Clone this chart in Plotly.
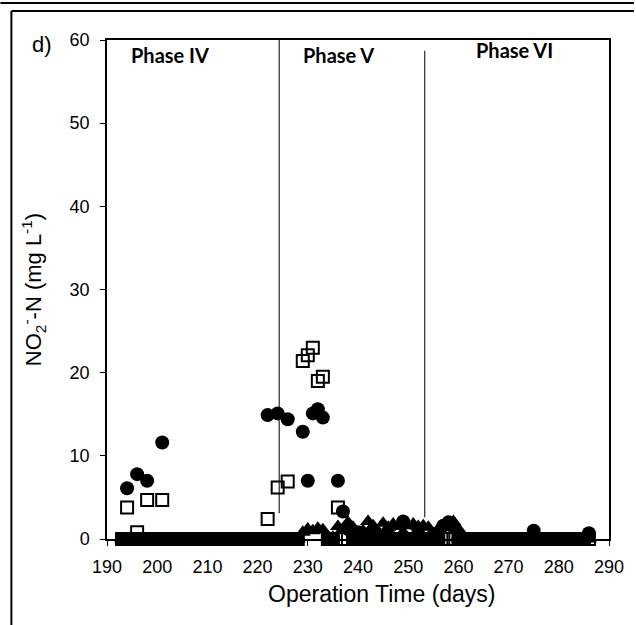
import plotly.graph_objects as go

# ---- data ----
days = [193, 194, 195, 196, 197, 198, 199, 200, 201, 202,
        203, 204, 205, 206, 207, 208, 209, 210, 211, 212,
        213, 214, 215, 216, 217, 218, 219, 220, 221, 222,
        223, 224, 225, 226, 227, 228, 229, 230, 231, 232,
        233, 234, 235, 236, 237, 238, 239, 240, 241, 242,
        243, 244, 245, 246, 247, 248, 249, 250, 251, 252,
        253, 254, 255, 256, 257, 258, 259, 260, 261, 262,
        263, 264, 265, 266, 267, 268, 269, 270, 271, 272,
        273, 274, 275, 276, 277, 278, 279, 280, 281, 282,
        283, 284, 285, 286]

circles = [0, 6.1, 0, 7.8, 0, 7.0, 0, 0, 11.6, 0,
           0, 0, 0, 0, 0, 0, 0, 0, 0, 0,
           0, 0, 0, 0, 0, 0, 0, 0, 0, 14.9,
           0, 15.1, 0, 14.4, 0, 0, 12.9, 7.0, 15.1, 15.6,
           14.6, 0, 0, 7.0, 3.3, 1.2, 0, 0.8, 0, 0,
           1.0, 0, 0, 0.6, 0, 0, 2.1, 0, 0, 1.2,
           0, 0, 0.5, 0, 1.6, 2.0, 1.5, 0, 0, 0,
           0, 0, 0, 0, 0, 0, 0, 0, 0, 0,
           0, 0, 1.0, 0, 0, 0, 0, 0, 0, 0,
           0, 0, 0, 0.7]

squares = [0, 3.8, 0, 0.8, 0, 4.7, 0, 0, 4.7, 0,
           0, 0, 0, 0, 0, 0, 0, 0, 0, 0,
           0, 0, 0, 0, 0, 0, 0, 0, 0, 2.4,
           0, 6.2, 0, 6.9, 0, 0, 21.4, 22.1, 23.0, 19.0,
           19.5, 0, 0, 3.8, 0, 0, 0, 0, 0, 0,
           0, 0, 0, 0, 0, 0, 0, 0, 0, 0,
           0, 0, 0, 0, 0, 0, 0, 0, 0, 0,
           0, 0, 0, 0, 0, 0, 0, 0, 0, 0,
           0, 0, 0, 0, 0, 0, 0, 0, 0, 0,
           0, 0, 0, 0]

triangles = [0, 0, 0, 0, 0, 0, 0, 0, 0, 0,
             0, 0, 0, 0, 0, 0, 0, 0, 0, 0,
             0, 0, 0, 0, 0, 0, 0, 0, 0, 0,
             0, 0, 0, 0, 0, 0, 0.8, 1.2, 1.0, 1.3,
             1.1, 0.3, 0.2, 1.5, 1.2, 2.0, 1.4, 0.5, 1.0, 2.1,
             1.6, 0.9, 1.9, 1.4, 1.8, 1.5, 0.8, 1.6, 1.8, 1.5,
             1.6, 1.4, 0.6, 1.2, 1.6, 1.7, 2.1, 1.2, 0, 0,
             0, 0, 0, 0, 0, 0, 0, 0, 0, 0,
             0, 0, 0, 0, 0, 0, 0, 0, 0, 0,
             0, 0, 0, 0]

phase_labels = ["Phase IV", "Phase V", "Phase VI"]
phase_label_x = [202.5, 236.2, 271.2]
phase_label_y = [58.2, 58.2, 58.8]
phase_bounds = [224.3, 253.3]
phase_bound_bottom = [3.1, 2.6]
phase_bound_top = [60, 58.7]

x_ticks = [190, 200, 210, 220, 230, 240, 250, 260, 270, 280, 290]
y_ticks = [0, 10, 20, 30, 40, 50, 60]

# ---- layout geometry (pixels) ----
W, H = 636, 625
L, R, T, B = 107, 25, 40, 86
PW, PH = W - L - R, H - T - B


def px(x):
    return (x - L) / PW


def py(y):
    return (H - B - y) / PH


fig = go.Figure()

fig.add_trace(go.Scatter(
    x=days, y=squares, mode="markers", cliponaxis=False,
    marker=dict(symbol="square-open", size=12, color="black",
                line=dict(width=2, color="black")),
    showlegend=False))
fig.add_trace(go.Scatter(
    x=days, y=circles, mode="markers", cliponaxis=False,
    marker=dict(symbol="circle", size=14, color="black"),
    showlegend=False))
fig.add_trace(go.Scatter(
    x=days, y=triangles, mode="markers", cliponaxis=False,
    marker=dict(symbol="triangle-up", size=14, color="black"),
    showlegend=False))

shapes = []
for xb, y0, y1 in zip(phase_bounds, phase_bound_bottom, phase_bound_top):
    shapes.append(dict(type="line", xref="x", yref="y", x0=xb, x1=xb,
                       y0=y0, y1=y1, line=dict(color="black", width=1)))
# outer panel frame
shapes.append(dict(type="line", xref="paper", yref="paper",
                   x0=px(0), x1=px(W), y0=py(3), y1=py(3),
                   line=dict(color="black", width=2)))
shapes.append(dict(type="line", xref="paper", yref="paper",
                   x0=px(11), x1=px(W), y0=py(11), y1=py(11),
                   line=dict(color="black", width=2)))
shapes.append(dict(type="line", xref="paper", yref="paper",
                   x0=px(11), x1=px(11), y0=py(11), y1=py(H),
                   line=dict(color="black", width=2)))

annotations = []
for lab, ax_, ay_ in zip(phase_labels, phase_label_x, phase_label_y):
    annotations.append(dict(x=ax_, y=ay_, xref="x", yref="y", text="<b>" + lab + "</b>",
                            showarrow=False, font=dict(family="Lato", size=20, color="black"),
                            xanchor="center", yanchor="middle"))
annotations.append(dict(x=px(42), y=py(44), xref="paper", yref="paper", text="d)",
                        showarrow=False, font=dict(family="Liberation Sans", size=22, color="black"),
                        xanchor="center", yanchor="middle"))
annotations.append(dict(x=px(383), y=py(594), xref="paper", yref="paper",
                        text="Operation Time (days)", showarrow=False,
                        font=dict(family="Liberation Sans", size=23, color="black"),
                        xanchor="center", yanchor="middle"))

fig.update_layout(
    width=W, height=H,
    margin=dict(l=L, r=R, t=T, b=B),
    paper_bgcolor="white", plot_bgcolor="white",
    shapes=shapes, annotations=annotations,
    font=dict(family="Liberation Sans", color="black"),
    xaxis=dict(range=[190, 290], tickvals=x_ticks, ticks="outside", ticklen=5,
               tickcolor="black", showline=True, linecolor="black", linewidth=1.5,
               mirror=True, showgrid=False, zeroline=False, ticklabelstandoff=6,
               tickfont=dict(size=18, family="Liberation Sans")),
    yaxis=dict(range=[0, 60], tickvals=y_ticks, ticks="outside", ticklen=5,
               tickcolor="black", showline=True, linecolor="black", linewidth=1.5,
               mirror=True, showgrid=False, zeroline=False, ticklabelstandoff=7,
               tickfont=dict(size=18, family="Liberation Sans"),
               title=dict(text="NO<sub>2</sub><sup>-</sup>-N (mg L<sup>-1</sup>)", standoff=22,
                          font=dict(size=22, family="Liberation Sans"))),
)

fig.write_html("out.html")
